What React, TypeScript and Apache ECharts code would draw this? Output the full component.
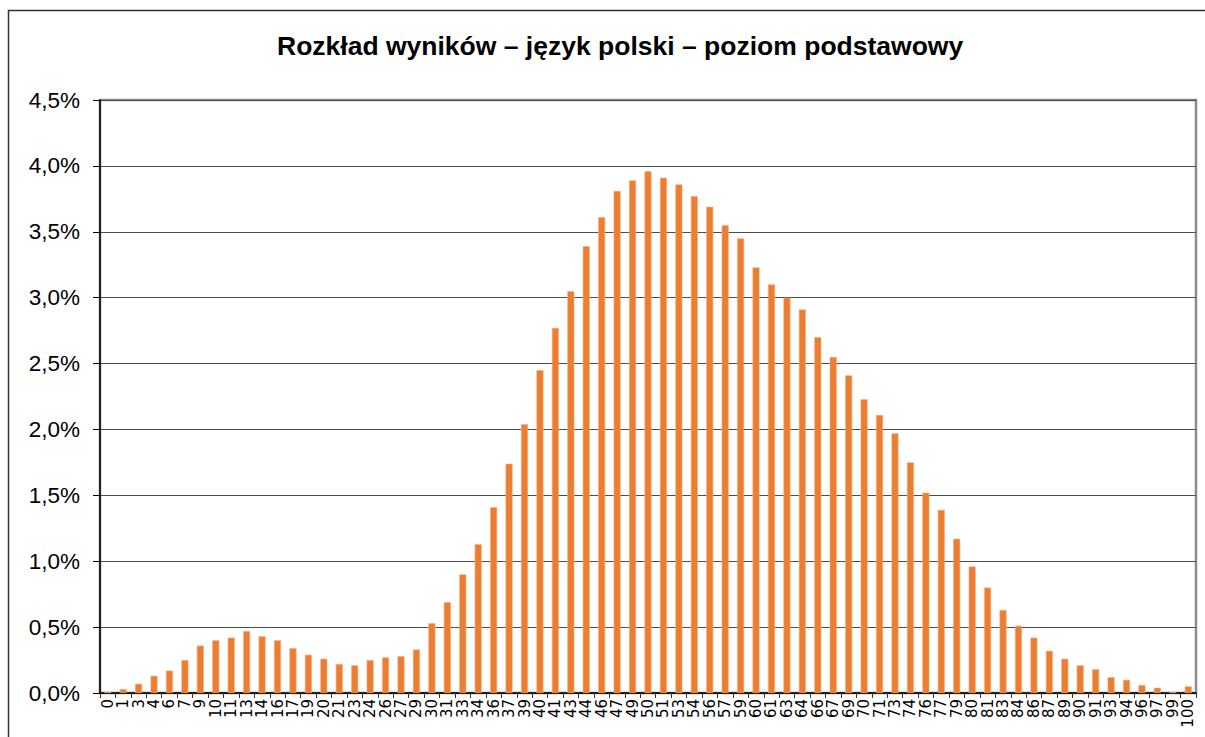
import React, { useEffect, useRef } from "react";
import * as echarts from "echarts";

const titleText = "Rozkład wyników – język polski – poziom podstawowy";

const scoreLabels: string[] = [
  "0", "1", "3", "4", "6", "7", "9", "10", "11", "13", "14", "16", "17", "19", "20", "21",
  "23", "24", "26", "27", "29", "30", "31", "33", "34", "36", "37", "39", "40", "41", "43",
  "44", "46", "47", "49", "50", "51", "53", "54", "56", "57", "59", "60", "61", "63", "64",
  "66", "67", "69", "70", "71", "73", "74", "76", "77", "79", "80", "81", "83", "84", "86",
  "87", "89", "90", "91", "93", "94", "96", "97", "99", "100",
];

const shareValues: number[] = [
  0.01, 0.03, 0.07, 0.13, 0.17, 0.25, 0.36, 0.40, 0.42, 0.47, 0.43, 0.40, 0.34, 0.29, 0.26, 0.22,
  0.21, 0.25, 0.27, 0.28, 0.33, 0.53, 0.69, 0.90, 1.13, 1.41, 1.74, 2.04, 2.45, 2.77, 3.05,
  3.39, 3.61, 3.81, 3.89, 3.96, 3.91, 3.86, 3.77, 3.69, 3.55, 3.45, 3.23, 3.10, 3.00, 2.91,
  2.70, 2.55, 2.41, 2.23, 2.11, 1.97, 1.75, 1.52, 1.39, 1.17, 0.96, 0.80, 0.63, 0.51, 0.42,
  0.32, 0.26, 0.21, 0.18, 0.12, 0.10, 0.06, 0.04, 0.01, 0.05,
];

const yMin = 0;
const yMax = 4.5;
const yStep = 0.5;

export default function App() {
  const ref = useRef<HTMLDivElement>(null);

  useEffect(() => {
    if (!ref.current) return;
    const chart = echarts.init(ref.current, null, { renderer: "svg" });
    chart.setOption({
      animation: false,
      backgroundColor: "#ffffff",
      title: {
        text: titleText,
        left: 272,
        top: 27,
        textStyle: {
          fontFamily: "Liberation Sans, Arial, sans-serif",
          fontWeight: "bold",
          fontSize: 26.5,
          color: "#000000",
        },
      },
      graphic: [
        {
          type: "rect",
          shape: { x: 8.5, y: 10.5, width: 1210, height: 800 },
          style: { fill: "none", stroke: "#333333", lineWidth: 1.5 },
          z: 100,
          silent: true,
        },
      ],
      grid: {
        left: 100,
        top: 100,
        right: 9,
        bottom: 44,
        show: true,
        borderColor: "#8c8c8c",
        borderWidth: 2.5,
        backgroundColor: "transparent",
        containLabel: false,
      },
      xAxis: {
        type: "category",
        data: scoreLabels,
        boundaryGap: true,
        axisLine: { show: true, lineStyle: { color: "#000000", width: 1.5 } },
        axisTick: { show: true, interval: 0, length: 5, lineStyle: { color: "#333333" } },
        axisLabel: {
          interval: 0,
          rotate: 90,
          margin: 6,
          fontFamily: "DejaVu Sans, sans-serif",
          fontSize: 15,
          color: "#000000",
        },
      },
      yAxis: {
        type: "value",
        min: yMin,
        max: yMax,
        interval: yStep,
        axisLine: { show: true, lineStyle: { color: "#000000", width: 1.5 } },
        axisTick: { show: true, length: 7, lineStyle: { color: "#000000" } },
        axisLabel: {
          margin: 20,
          fontFamily: "Liberation Sans, Arial, sans-serif",
          fontSize: 22.5,
          color: "#000000",
          formatter: (v: number) => v.toFixed(1).replace(".", ",") + "%",
        },
        splitLine: { show: true, lineStyle: { color: "#4d4d4d", width: 1.2 } },
      },
      series: [
        {
          type: "bar",
          data: shareValues,
          barWidth: 7,
          itemStyle: { color: "#ED7D31", borderColor: "#F4AE80", borderWidth: 0.6 },
        },
      ],
    });
    return () => chart.dispose();
  }, []);

  return (
    <div
      ref={ref}
      style={{ position: "absolute", left: 0, top: 0, width: 1205, height: 737 }}
    />
  );
}
